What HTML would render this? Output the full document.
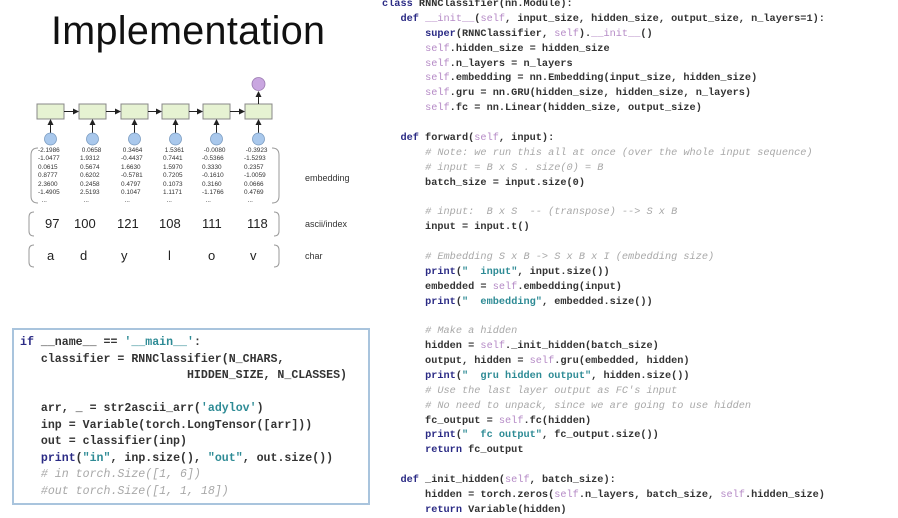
<!DOCTYPE html>
<html><head><meta charset="utf-8"><style>
body{margin:0;width:898px;height:514px;background:#fff;position:relative;overflow:hidden;font-family:"Liberation Sans",sans-serif}
.t{position:absolute;left:51px;top:9px;font-size:39.5px;color:#111;letter-spacing:0.3px}
.code{position:absolute;font-family:"Liberation Mono",monospace;color:#333;white-space:pre;font-weight:bold}
.r{left:382px;top:-3px;font-size:10.25px;line-height:14.88px}
.l{left:20px;top:335px;font-size:11.6px;line-height:16.5px}
.k{color:#2b2b85}
.s{color:#b58ac6;font-weight:normal}
.c{color:#a8a8a8;font-style:italic;font-weight:normal}
.q{color:#2e8b95}
.box{position:absolute;left:12px;top:328px;width:358px;height:177px;border:2px solid #a9c4dd;box-sizing:border-box}
.n{position:absolute;font-size:6.4px;line-height:8.4px;color:#333;white-space:pre}
.big{position:absolute;font-size:13px;color:#222}
.lab{position:absolute;font-size:9px;color:#333}
</style></head><body>
<div class="t">Implementation</div>
<svg style="position:absolute;left:0;top:0" width="380" height="280">
<defs><marker id="a" markerWidth="6" markerHeight="6" refX="5" refY="3" orient="auto"><path d="M0,0 L6,3 L0,6z" fill="#222"/></marker></defs>
<g stroke="#888" fill="#e6f2d2" stroke-width="1">
<rect x="37" y="104" width="27" height="15"/><rect x="79" y="104" width="27" height="15"/><rect x="121" y="104" width="27" height="15"/><rect x="162" y="104" width="27" height="15"/><rect x="203" y="104" width="27" height="15"/><rect x="245" y="104" width="27" height="15"/>
</g>
<g stroke="#222" stroke-width="1" marker-end="url(#a)">
<line x1="64" y1="111.5" x2="78" y2="111.5"/><line x1="106" y1="111.5" x2="120" y2="111.5"/><line x1="148" y1="111.5" x2="161" y2="111.5"/><line x1="189" y1="111.5" x2="202" y2="111.5"/><line x1="230" y1="111.5" x2="244" y2="111.5"/>
<line x1="258.5" y1="104" x2="258.5" y2="92"/>
<line x1="50.5" y1="133" x2="50.5" y2="120"/><line x1="92.5" y1="133" x2="92.5" y2="120"/><line x1="134.5" y1="133" x2="134.5" y2="120"/><line x1="175.5" y1="133" x2="175.5" y2="120"/><line x1="216.5" y1="133" x2="216.5" y2="120"/><line x1="258.5" y1="133" x2="258.5" y2="120"/>
</g>
<g fill="#a9c8ec" stroke="#7a9bc0" stroke-width=".8">
<ellipse cx="50.5" cy="139" rx="6" ry="6"/><ellipse cx="92.5" cy="139" rx="6" ry="6"/><ellipse cx="134.5" cy="139" rx="6" ry="6"/><ellipse cx="175.5" cy="139" rx="6" ry="6"/><ellipse cx="216.5" cy="139" rx="6" ry="6"/><ellipse cx="258.5" cy="139" rx="6" ry="6"/>
</g>
<ellipse cx="258.5" cy="84" rx="6.5" ry="6.5" fill="#c9a6e0" stroke="#9a7ab0" stroke-width=".8"/>
<g fill="none" stroke="#999" stroke-width="1">
<path d="M38,148 Q31,148 31,155 L31,196 Q31,203 38,203"/><path d="M272,148 Q279,148 279,155 L279,196 Q279,203 272,203"/>
<path d="M34,212 Q29,212 29,217 L29,231 Q29,236 34,236"/><path d="M274,212 Q279,212 279,217 L279,231 Q279,236 274,236"/>
<path d="M34,245 Q29,245 29,250 L29,262 Q29,267 34,267"/><path d="M274,245 Q279,245 279,250 L279,262 Q279,267 274,267"/>
</g>
</svg>
<div class="n" style="left:38px;top:147px">-2.1986
-1.0477
0.0615
0.8777
2.3600
-1.4905
  ...</div>
<div class="n" style="left:80px;top:147px"> 0.0658
1.9312
0.5674
0.6202
0.2458
2.5193
  ...</div>
<div class="n" style="left:121px;top:147px"> 0.3464
-0.4437
1.6630
-0.5781
0.4797
0.1047
  ...</div>
<div class="n" style="left:163px;top:147px"> 1.5361
0.7441
1.5970
0.7205
0.1073
1.1171
  ...</div>
<div class="n" style="left:202px;top:147px"> -0.0080
-0.5366
0.3330
-0.1610
0.3160
-1.1766
  ...</div>
<div class="n" style="left:244px;top:147px"> -0.3923
-1.5293
0.2357
-1.0059
0.0666
0.4769
  ...</div>
<div class="big" style="left:45px;top:216px">97</div>
<div class="big" style="left:74px;top:216px">100</div>
<div class="big" style="left:117px;top:216px">121</div>
<div class="big" style="left:159px;top:216px">108</div>
<div class="big" style="left:202px;top:216px">111</div>
<div class="big" style="left:247px;top:216px">118</div>
<div class="big" style="left:47px;top:248px">a</div>
<div class="big" style="left:80px;top:248px">d</div>
<div class="big" style="left:121px;top:248px">y</div>
<div class="big" style="left:168px;top:248px">l</div>
<div class="big" style="left:208px;top:248px">o</div>
<div class="big" style="left:250px;top:248px">v</div>
<div class="lab" style="left:305px;top:173px">embedding</div>
<div class="lab" style="left:305px;top:219px">ascii/index</div>
<div class="lab" style="left:305px;top:251px">char</div>

<div class="box"></div>
<div class="code l"><span class="k">if</span> __name__ == <span class="q">'__main__'</span>:
   classifier = RNNClassifier(N_CHARS,
                        HIDDEN_SIZE, N_CLASSES)

   arr, _ = str2ascii_arr(<span class="q">'adylov'</span>)
   inp = Variable(torch.LongTensor([arr]))
   out = classifier(inp)
   <span class="k">print</span>(<span class="q">"in"</span>, inp.size(), <span class="q">"out"</span>, out.size())
   <span class="c"># in torch.Size([1, 6])</span>
   <span class="c">#out torch.Size([1, 1, 18])</span></div>

<div class="code r"><span class="k">class</span> RNNClassifier(nn.Module):
   <span class="k">def</span> <span class="s">__init__</span>(<span class="s">self</span>, input_size, hidden_size, output_size, n_layers=1):
       <span class="k">super</span>(RNNClassifier, <span class="s">self</span>).<span class="s">__init__</span>()
       <span class="s">self</span>.hidden_size = hidden_size
       <span class="s">self</span>.n_layers = n_layers
       <span class="s">self</span>.embedding = nn.Embedding(input_size, hidden_size)
       <span class="s">self</span>.gru = nn.GRU(hidden_size, hidden_size, n_layers)
       <span class="s">self</span>.fc = nn.Linear(hidden_size, output_size)

   <span class="k">def</span> forward(<span class="s">self</span>, input):
       <span class="c"># Note: we run this all at once (over the whole input sequence)</span>
       <span class="c"># input = B x S . size(0) = B</span>
       batch_size = input.size(0)

       <span class="c"># input:  B x S  -- (transpose) --> S x B</span>
       input = input.t()

       <span class="c"># Embedding S x B -> S x B x I (embedding size)</span>
       <span class="k">print</span>(<span class="q">"  input"</span>, input.size())
       embedded = <span class="s">self</span>.embedding(input)
       <span class="k">print</span>(<span class="q">"  embedding"</span>, embedded.size())

       <span class="c"># Make a hidden</span>
       hidden = <span class="s">self</span>._init_hidden(batch_size)
       output, hidden = <span class="s">self</span>.gru(embedded, hidden)
       <span class="k">print</span>(<span class="q">"  gru hidden output"</span>, hidden.size())
       <span class="c"># Use the last layer output as FC's input</span>
       <span class="c"># No need to unpack, since we are going to use hidden</span>
       fc_output = <span class="s">self</span>.fc(hidden)
       <span class="k">print</span>(<span class="q">"  fc output"</span>, fc_output.size())
       <span class="k">return</span> fc_output

   <span class="k">def</span> _init_hidden(<span class="s">self</span>, batch_size):
       hidden = torch.zeros(<span class="s">self</span>.n_layers, batch_size, <span class="s">self</span>.hidden_size)
       <span class="k">return</span> Variable(hidden)</div>
</body></html>
